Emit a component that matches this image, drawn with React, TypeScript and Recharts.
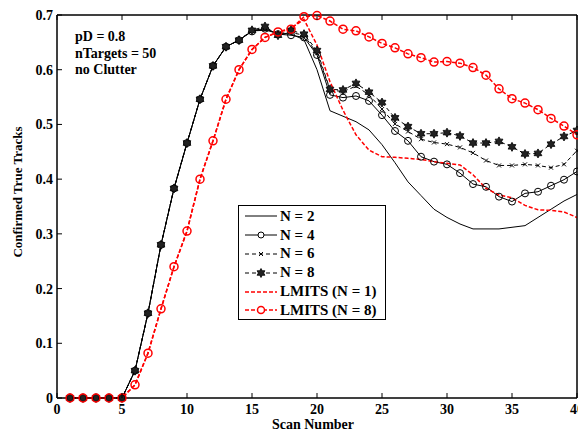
import { Legend, Line, LineChart, ReferenceArea, XAxis, YAxis } from "recharts";

const serif = "'Liberation Serif', 'Times New Roman', serif";

const scans = [
  1, 2, 3, 4, 5, 6, 7, 8, 9, 10, 11, 12, 13, 14, 15, 16, 17, 18, 19, 20,
  21, 22, 23, 24, 25, 26, 27, 28, 29, 30, 31, 32, 33, 34, 35, 36, 37, 38, 39, 40
];

const n2 = [
  0, 0, 0, 0, 0, 0.05, 0.155, 0.28, 0.383, 0.466, 0.546, 0.607, 0.642, 0.654, 0.671, 0.672, 0.668, 0.665, 0.655, 0.6,
  0.525, 0.515, 0.505, 0.49, 0.463, 0.43, 0.395, 0.37, 0.345, 0.33, 0.318, 0.309, 0.309, 0.309, 0.312, 0.315, 0.33, 0.345, 0.36, 0.372
];
const n4 = [
  0, 0, 0, 0, 0, 0.05, 0.155, 0.28, 0.383, 0.466, 0.546, 0.607, 0.642, 0.654, 0.67, 0.675, 0.665, 0.663, 0.659, 0.627,
  0.554, 0.549, 0.552, 0.543, 0.517, 0.488, 0.47, 0.441, 0.432, 0.427, 0.411, 0.391, 0.386, 0.368, 0.359, 0.374, 0.377, 0.388, 0.399, 0.414
];
const n6 = [
  0, 0, 0, 0, 0, 0.05, 0.155, 0.28, 0.383, 0.466, 0.546, 0.607, 0.642, 0.654, 0.671, 0.676, 0.663, 0.668, 0.663, 0.63,
  0.563, 0.56, 0.57, 0.554, 0.528, 0.501, 0.487, 0.473, 0.467, 0.464, 0.458, 0.448, 0.434, 0.425, 0.425, 0.427, 0.425, 0.421, 0.427, 0.452
];
const n8 = [
  0, 0, 0, 0, 0, 0.05, 0.155, 0.28, 0.383, 0.466, 0.546, 0.607, 0.642, 0.654, 0.672, 0.679, 0.663, 0.672, 0.665, 0.635,
  0.564, 0.563, 0.575, 0.559, 0.54, 0.512, 0.496, 0.483, 0.483, 0.485, 0.479, 0.466, 0.466, 0.469, 0.459, 0.446, 0.447, 0.464, 0.478, 0.489
];
const lmits1 = [
  0, 0, 0, 0, 0, 0.024, 0.082, 0.163, 0.24, 0.305, 0.4, 0.47, 0.546, 0.6, 0.637, 0.659, 0.669, 0.676, 0.692, 0.645,
  0.578, 0.526, 0.481, 0.453, 0.441, 0.44, 0.438, 0.436, 0.432, 0.429, 0.426, 0.408, 0.383, 0.371, 0.366, 0.352, 0.344, 0.343, 0.34, 0.33
];
const lmits8 = [
  0, 0, 0, 0, 0, 0.024, 0.082, 0.163, 0.24, 0.305, 0.4, 0.47, 0.546, 0.6, 0.637, 0.659, 0.669, 0.674, 0.697, 0.699,
  0.689, 0.674, 0.671, 0.66, 0.648, 0.64, 0.629, 0.622, 0.614, 0.615, 0.612, 0.604, 0.59, 0.565, 0.547, 0.539, 0.527, 0.511, 0.497, 0.481
];

const xTicks = [0, 5, 10, 15, 20, 25, 30, 35, 40];
const yTicks = [0, 0.1, 0.2, 0.3, 0.4, 0.5, 0.6, 0.7];
const notes = ["pD = 0.8", "nTargets = 50", "no Clutter"];

const data = scans.map((scan, i) => ({
  scan,
  n2: n2[i],
  n4: n4[i],
  n6: n6[i],
  n8: n8[i],
  lmits1: lmits1[i],
  lmits8: lmits8[i]
}));

const labelStyle = { fontFamily: serif, fontWeight: "bold" as const, fontSize: 14, fill: "#000" };

function BottomTick({ x, y, payload }: any) {
  return (
    <g>
      <line x1={x} y1={y} x2={x} y2={y - 5} stroke="#000" />
      <text x={x} y={y + 16} textAnchor="middle" {...labelStyle}>
        {payload.value}
      </text>
    </g>
  );
}

function TopTick({ x, y }: any) {
  return <line x1={x} y1={y} x2={x} y2={y + 5} stroke="#000" />;
}

function LeftTick({ x, y, payload }: any) {
  return (
    <g>
      <line x1={x} y1={y} x2={x + 5} y2={y} stroke="#000" />
      <text x={x - 4} y={y + 5} textAnchor="end" {...labelStyle}>
        {payload.value}
      </text>
    </g>
  );
}

function RightTick({ x, y }: any) {
  return <line x1={x} y1={y} x2={x - 5} y2={y} stroke="#000" />;
}

function circle(color: string, r: number, w: number) {
  return (props: any) => (
    <circle key={props.index} cx={props.cx} cy={props.cy} r={r} fill="none" stroke={color} strokeWidth={w} />
  );
}

function Cross({ cx, cy, index }: any) {
  const s = 2;
  return (
    <g key={index} stroke="#000" strokeWidth={1}>
      <line x1={cx - s} y1={cy - s} x2={cx + s} y2={cy + s} />
      <line x1={cx - s} y1={cy + s} x2={cx + s} y2={cy - s} />
    </g>
  );
}

function hexagramPoints(cx: number, cy: number, r: number) {
  const pts: string[] = [];
  for (let k = 0; k < 12; k++) {
    const a = (Math.PI / 6) * k - Math.PI / 2;
    const rr = k % 2 === 0 ? r : r * 0.58;
    pts.push(`${cx + rr * Math.cos(a)},${cy + rr * Math.sin(a)}`);
  }
  return pts.join(" ");
}

function Hexagram({ cx, cy, index }: any) {
  return <polygon key={index} points={hexagramPoints(cx, cy, 4.5)} fill="#222" stroke="#000" strokeWidth={0.8} />;
}

const legendRows = [
  { label: "N = 2", color: "#000", dash: undefined, width: 1, marker: null },
  { label: "N = 4", color: "#000", dash: undefined, width: 1, marker: "circle" },
  { label: "N = 6", color: "#000", dash: "4 3", width: 1, marker: "cross" },
  { label: "N = 8", color: "#000", dash: "4 3", width: 1, marker: "hex" },
  { label: "LMITS (N = 1)", color: "#ff0000", dash: "4 2", width: 1.5, marker: null },
  { label: "LMITS (N = 8)", color: "#ff0000", dash: "4 2", width: 1.5, marker: "redcircle" }
];

function LegendBox() {
  return (
    <div
      style={{
        width: 148,
        height: 115,
        boxSizing: "border-box",
        border: "1px solid #000",
        background: "#fff",
        paddingTop: 1
      }}
    >
      {legendRows.map((row) => (
        <div key={row.label} style={{ display: "flex", alignItems: "center", height: 18.8 }}>
          <svg width={41} height={12} style={{ flex: "none" }}>
            <line x1={6} y1={6} x2={38} y2={6} stroke={row.color} strokeWidth={row.width} strokeDasharray={row.dash} />
            {row.marker === "circle" && <circle cx={22} cy={6} r={3} fill="#fff" stroke="#000" />}
            {row.marker === "cross" && Cross({ cx: 22, cy: 6, index: 0 })}
            {row.marker === "hex" && Hexagram({ cx: 22, cy: 6, index: 0 })}
            {row.marker === "redcircle" && <circle cx={22} cy={6} r={3.5} fill="#fff" stroke="#ff0000" strokeWidth={1.5} />}
          </svg>
          <span style={{ fontFamily: serif, fontWeight: "bold", fontSize: 15, color: "#000", whiteSpace: "nowrap" }}>
            {row.label}
          </span>
        </div>
      ))}
    </div>
  );
}

export default function App() {
  return (
    <div style={{ position: "absolute", left: 0, top: 0, width: 578, height: 433, background: "#fff" }}>
      <LineChart width={578} height={433} data={data} margin={{ top: 14, right: 0, bottom: 0, left: 0 }}>
        <XAxis
          xAxisId="b"
          dataKey="scan"
          type="number"
          domain={[0, 40]}
          ticks={xTicks}
          height={35}
          tickSize={0}
          tickMargin={0}
          tick={<BottomTick />}
          axisLine={{ stroke: "#000" }}
          interval={0}
          label={{
            content: () => (
              <text x={313} y={429} textAnchor="middle" {...labelStyle} fontSize={14}>
                Scan Number
              </text>
            )
          }}
        />
        <XAxis
          xAxisId="t"
          orientation="top"
          dataKey="scan"
          type="number"
          domain={[0, 40]}
          ticks={xTicks}
          height={1}
          tickSize={0}
          tickMargin={0}
          tick={<TopTick />}
          axisLine={{ stroke: "#000" }}
          interval={0}
        />
        <YAxis
          yAxisId="l"
          type="number"
          domain={[0, 0.7]}
          ticks={yTicks}
          width={57}
          tickSize={0}
          tickMargin={0}
          tick={<LeftTick />}
          axisLine={{ stroke: "#000" }}
          interval={0}
          label={{
            content: () => (
              <text transform="translate(22,192) rotate(-90)" textAnchor="middle" {...labelStyle} fontSize={13}>
                Confirmed True Tracks
              </text>
            )
          }}
        />
        <YAxis
          yAxisId="r"
          orientation="right"
          type="number"
          domain={[0, 0.7]}
          ticks={yTicks}
          width={1}
          tickSize={0}
          tickMargin={0}
          tick={<RightTick />}
          axisLine={{ stroke: "#000" }}
          interval={0}
        />
        <ReferenceArea xAxisId="b" yAxisId="l" x1={0} x2={40} y1={0} y2={0.7} fill="none" stroke="#000" strokeWidth={1} />
        <Legend
          layout="vertical"
          align="center"
          verticalAlign="middle"
          wrapperStyle={{ left: 238, top: 205, width: 148, height: 115 }}
          content={() => <LegendBox />}
        />
        <Line xAxisId="b" yAxisId="l" dataKey="n2" stroke="#000" strokeWidth={1} dot={false} isAnimationActive={false} />
        <Line
          xAxisId="b"
          yAxisId="l"
          dataKey="n4"
          stroke="#000"
          strokeWidth={1}
          dot={circle("#000", 3.5, 1)}
          isAnimationActive={false}
        />
        <Line
          xAxisId="b"
          yAxisId="l"
          dataKey="n6"
          stroke="#000"
          strokeWidth={1}
          strokeDasharray="4 3"
          dot={(p: any) => <Cross key={p.index} {...p} />}
          isAnimationActive={false}
        />
        <Line
          xAxisId="b"
          yAxisId="l"
          dataKey="n8"
          stroke="#000"
          strokeWidth={1}
          strokeDasharray="4 3"
          dot={(p: any) => <Hexagram key={p.index} {...p} />}
          isAnimationActive={false}
        />
        <Line
          xAxisId="b"
          yAxisId="l"
          dataKey="lmits1"
          stroke="#ff0000"
          strokeWidth={1.5}
          strokeDasharray="4 2"
          dot={false}
          isAnimationActive={false}
        />
        <Line
          xAxisId="b"
          yAxisId="l"
          dataKey="lmits8"
          stroke="#ff0000"
          strokeWidth={1.5}
          strokeDasharray="4 2"
          dot={circle("#ff0000", 4, 1.5)}
          isAnimationActive={false}
        />
      </LineChart>
      <div style={{ position: "absolute", left: 75, top: 29, fontFamily: serif, fontWeight: "bold", fontSize: 14, lineHeight: "16.7px" }}>
        {notes.map((n) => (
          <div key={n}>{n}</div>
        ))}
      </div>
    </div>
  );
}
